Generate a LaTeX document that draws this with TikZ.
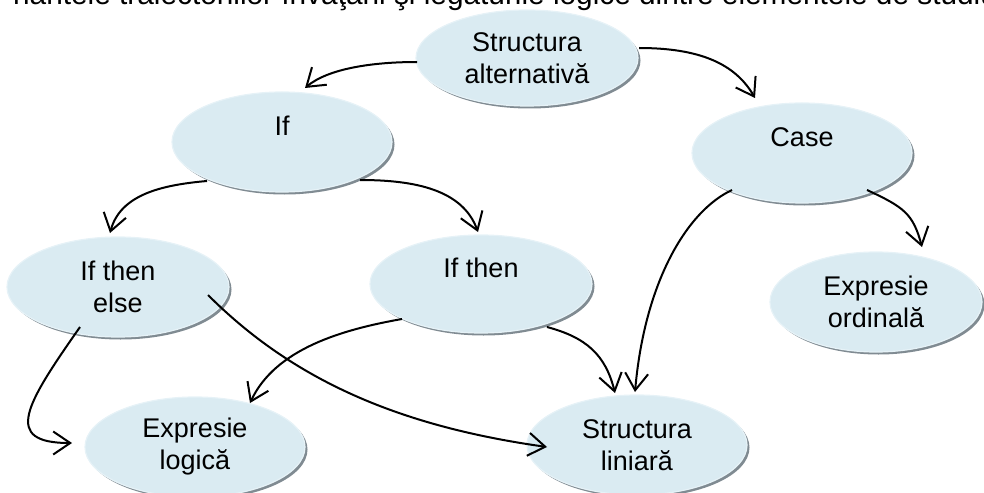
\documentclass[tikz,border=0pt]{standalone}
\usepackage{fontspec}
\setmainfont{Liberation Sans}
\usetikzlibrary{shapes.geometric,arrows.meta,shadows,calc}

\definecolor{bubblefill}{RGB}{218,235,242}
\definecolor{bubblerim}{RGB}{230,242,247}
\definecolor{bubbleshade}{RGB}{128,139,146}

\newcommand{\headsize}{\fontsize{29.8pt}{36pt}\selectfont}

\tikzset{
  bubble/.style={ellipse, fill=bubblefill, draw=bubblerim, line width=1.2pt,
    inner sep=0pt, align=center, font=\fontsize{27}{32}\selectfont,
    drop shadow={shadow xshift=2.5pt, shadow yshift=-2.5pt, fill=bubbleshade, opacity=1}},
  link/.style={line width=2pt, -{Straight Barb[length=17pt,width=23pt]}},
  headline/.style={anchor=base west, inner sep=0pt},
}

\begin{document}
\begin{tikzpicture}[x=1pt,y=1pt]
  \useasboundingbox (0,0) rectangle (984,-492);
  \clip (0,0) rectangle (984,-492);

  % running text line above the concept map (only its lower part falls inside)
  \node[headline] (intro) at (13,-4.5)
    {\headsize riantele traiectoriilor învăţării şi legăturile logice dintre elementele de studiu};

  % concepts
  \node[bubble, minimum width=222pt, minimum height=96pt]  (sa)   at (527,-58)  {Structura\\alternativă};
  \node[bubble, minimum width=220pt, minimum height=100pt] (if)   at (282,-142) {If\\\phantom{I}};
  \node[bubble, minimum width=220pt, minimum height=100pt] (case) at (802,-153) {Case\\\phantom{I}};
  \node[bubble, minimum width=212pt, minimum height=100pt] (eo)   at (876,-302) {Expresie\\ordinală};
  \node[bubble, minimum width=222pt, minimum height=100pt] (ite)  at (118,-287) {If then\\else};
  \node[bubble, minimum width=222pt, minimum height=98pt]  (it)   at (481,-284) {If then\\\phantom{I}};
  \node[bubble, minimum width=220pt, minimum height=100pt] (el)   at (195,-447) {Expresie\\logică};
  \node[bubble, minimum width=220pt, minimum height=100pt] (sl)   at (637,-445) {Structura\\liniară};

  % connectors
  \draw[link] ($(sa)+(-110,-4)$)  .. controls +(180:45) and +(40:30)   .. ($(if)+(23,54)$);
  \draw[link] ($(sa)+(112,10)$)   .. controls +(0:60)   and +(120:40)  .. ($(case)+(-47,55)$);
  \draw[link] ($(if)+(-75,-39)$)  .. controls +(185:45) and +(75:40)   .. ($(ite)+(-8,54)$);
  \draw[link] ($(if)+(78,-38)$)   .. controls +(0:55)   and +(110:45)  .. ($(it)+(-3,52)$);
  \draw[link] ($(ite)+(-38,-40)$) .. controls +(235:95) and +(180:70)  .. ($(el)+(-123,4)$);
  \draw[link] ($(ite)+(90,-8)$)   .. controls +(-45:120) and +(172:150) .. ($(sl)+(-90,-2)$);
  \draw[link] ($(it)+(-79,-35)$)  .. controls +(190:60) and +(65:60)   .. ($(el)+(55,44)$);
  \draw[link] ($(it)+(66,-43)$)   .. controls +(-15:40) and +(104:40)  .. ($(sl)+(-22,52)$);
  \draw[link] ($(case)+(-70,-37)$) .. controls +(205:50) and +(85:110) .. ($(sl)+(-2,53)$);
  \draw[link] ($(case)+(65,-37)$) .. controls +(-25:40) and +(105:35)  .. ($(eo)+(46,55)$);
\end{tikzpicture}
\end{document}
